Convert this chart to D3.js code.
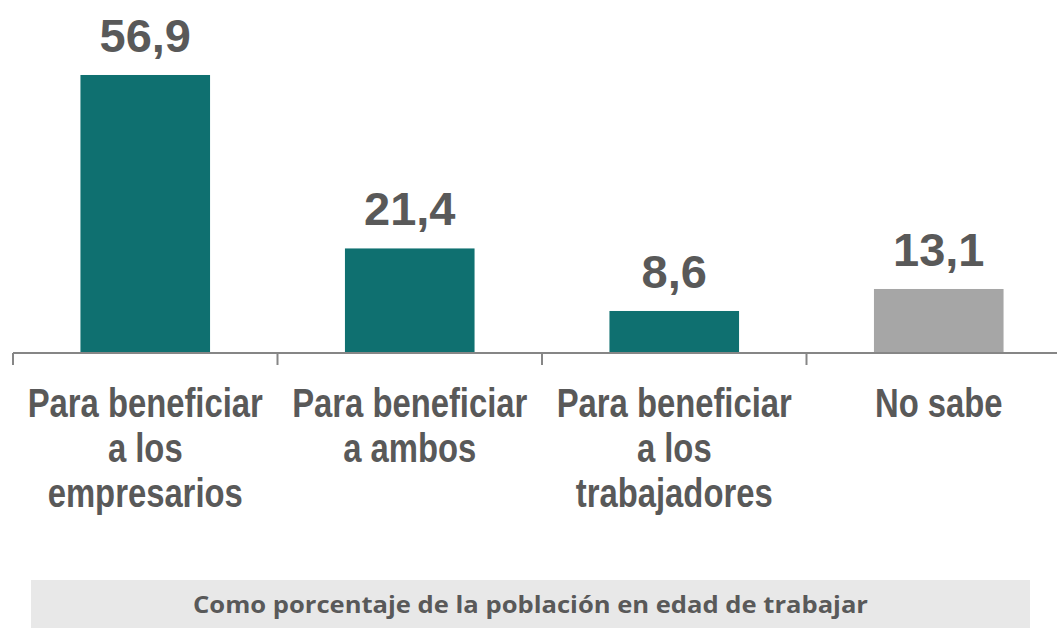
<!DOCTYPE html>
<html>
<head>
<meta charset="utf-8">
<script src="https://cdn.jsdelivr.net/npm/d3@7"></script>
<style>
  body { margin: 0; background: #fff; }
  svg { display: block; }
</style>
</head>
<body>
<div class="graph"></div>
<script>
// chart data
const categories = ['empresarios', 'ambos', 'trabajadores', 'nosabe'];
const labelLines = [
  ['Para beneficiar', 'a los', 'empresarios'],
  ['Para beneficiar', 'a ambos'],
  ['Para beneficiar', 'a los', 'trabajadores'],
  ['No sabe']
];
const values = [56.9, 21.4, 8.6, 13.1];
const footnote = 'Como porcentaje de la población en edad de trabajar';

const COLORS = ['#0f7070', '#0f7070', '#0f7070', '#a6a6a6'];
const TEXT = '#595959';

var width = 1057, height = 628;
var baseY = 353;

var svg = d3.select('.graph')
  .append('svg')
    .attr('width', width)
    .attr('height', height);

// band per category, ticks sit on band edges
var x = d3.scaleBand()
  .domain(categories)
  .range([13, 13 + 264.5 * categories.length])
  .padding(0);

var y = d3.scaleLinear()
  .domain([0, 60])
  .range([baseY, baseY - 60 * 4.886]);

var barW = x.bandwidth() * 0.49;

svg.selectAll('.bar')
  .data(values)
  .enter()
  .append('rect')
    .attr('x', (d, i) => x(categories[i]) + (x.bandwidth() - barW) / 2)
    .attr('y', d => y(d))
    .attr('width', barW)
    .attr('height', d => y(0) - y(d))
    .attr('fill', (d, i) => COLORS[i]);

// value labels
svg.selectAll('.val')
  .data(values)
  .enter()
  .append('text')
    .attr('x', (d, i) => x(categories[i]) + x.bandwidth() / 2)
    .attr('y', d => y(d) - 23)
    .attr('text-anchor', 'middle')
    .attr('font-family', 'Liberation Sans, Arial, sans-serif')
    .attr('font-weight', 'bold')
    .attr('font-size', 47)
    .attr('fill', TEXT)
    .text(d => d.toFixed(1).replace('.', ','));

// axis line + ticks
svg.append('line')
  .attr('x1', 13).attr('x2', width)
  .attr('y1', baseY).attr('y2', baseY)
  .attr('stroke', '#868686')
  .attr('stroke-width', 2);

svg.selectAll('.tick')
  .data(categories)
  .enter()
  .append('line')
    .attr('x1', d => x(d)).attr('x2', d => x(d))
    .attr('y1', baseY).attr('y2', baseY + 12)
    .attr('stroke', '#868686')
    .attr('stroke-width', 2);

// category labels (narrow bold look)
labelLines.forEach(function(lines, i) {
  var cx = x(categories[i]) + x.bandwidth() / 2;
  lines.forEach(function(line, j) {
    var t = svg.append('text')
      .attr('x', cx)
      .attr('y', 417 + j * 45)
      .attr('text-anchor', 'middle')
      .attr('font-family', 'Liberation Sans, Arial, sans-serif')
      .attr('font-weight', 'bold')
      .attr('font-size', 40)
      .attr('fill', TEXT)
      .text(line);
    var w = t.node().getComputedTextLength();
    t.attr('textLength', w * 0.82).attr('lengthAdjust', 'spacingAndGlyphs');
  });
});

// footnote box
svg.append('rect')
  .attr('x', 31).attr('y', 580)
  .attr('width', 999).attr('height', 48)
  .attr('fill', '#e8e8e8');

svg.append('text')
  .attr('x', 530.5)
  .attr('y', 613)
  .attr('text-anchor', 'middle')
  .attr('font-family', 'Open Sans, sans-serif')
  .attr('font-weight', 'bold')
  .attr('font-size', 23)
  .attr('fill', TEXT)
  .attr('textLength', 675)
  .attr('lengthAdjust', 'spacingAndGlyphs')
  .text(footnote);
</script>
</body>
</html>
